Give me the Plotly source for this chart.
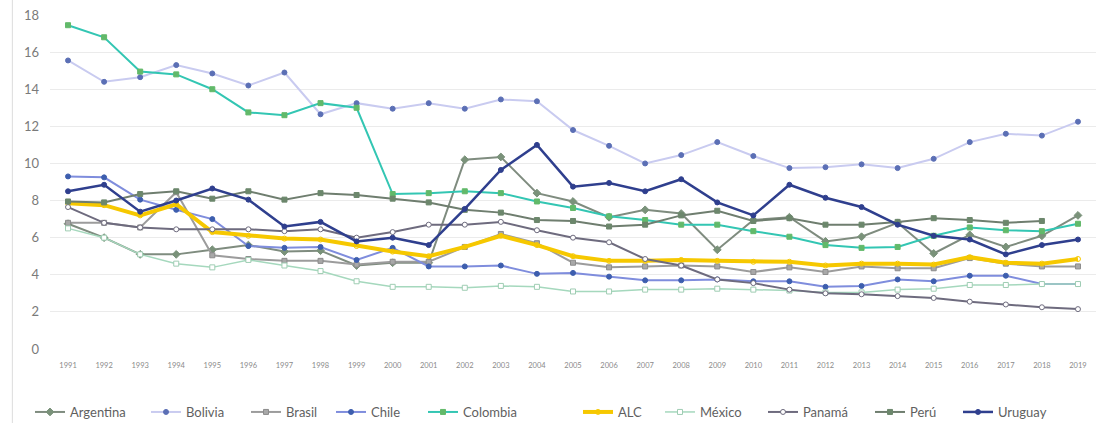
import plotly.graph_objects as go

# Years on the horizontal axis
years = [str(y) for y in range(1991, 2020)]

# Series values (percent)
argentina = [6.75, 6.0, 5.1, 5.1, 5.35, 5.6, 5.25, 5.3, 4.5, 4.65, 4.65, 10.2, 10.35, 8.4, 7.95,
             7.1, 7.5, 7.3, 5.35, 6.95, 7.1, 5.8, 6.05, 6.8, 5.15, 6.15, 5.5, 6.1, 7.2]
bolivia = [15.55, 14.4, 14.65, 15.3, 14.85, 14.2, 14.9, 12.65, 13.25, 12.95, 13.25, 12.95, 13.45,
           13.35, 11.8, 10.95, 10.0, 10.45, 11.15, 10.4, 9.75, 9.8, 9.95, 9.75, 10.25, 11.15,
           11.6, 11.5, 12.25]
brasil = [6.8, 6.8, 6.55, 8.45, 5.05, 4.85, 4.75, 4.75, 4.55, 4.7, 4.7, 5.5, 6.2, 5.7, 4.65,
          4.4, 4.45, 4.5, 4.45, 4.15, 4.4, 4.15, 4.45, 4.35, 4.35, 4.9, 4.6, 4.45, 4.45]
chile = [9.3, 9.25, 8.05, 7.5, 7.0, 5.55, 5.45, 5.5, 4.8, 5.45, 4.45, 4.45, 4.5, 4.05, 4.1,
         3.9, 3.7, 3.7, 3.75, 3.65, 3.65, 3.35, 3.4, 3.75, 3.65, 3.95, 3.95, 3.5, 3.5]
colombia = [17.45, 16.8, 14.95, 14.8, 14.0, 12.75, 12.6, 13.25, 13.0, 8.35, 8.4, 8.5, 8.4, 7.95,
            7.6, 7.15, 6.95, 6.7, 6.7, 6.35, 6.05, 5.6, 5.45, 5.5, 6.1, 6.55, 6.4, 6.35, 6.75]
alc = [7.85, 7.75, 7.2, 7.8, 6.3, 6.1, 5.95, 5.9, 5.55, 5.25, 5.0, 5.5, 6.1, 5.6, 5.0,
       4.75, 4.75, 4.8, 4.75, 4.7, 4.7, 4.5, 4.6, 4.6, 4.55, 4.95, 4.65, 4.6, 4.85]
mexico = [6.5, 6.0, 5.1, 4.6, 4.4, 4.8, 4.5, 4.2, 3.65, 3.35, 3.35, 3.3, 3.4, 3.35, 3.1,
          3.1, 3.2, 3.2, 3.25, 3.2, 3.15, 3.05, 3.05, 3.2, 3.25, 3.45, 3.45, 3.5, 3.5]
panama = [7.65, 6.8, 6.55, 6.45, 6.45, 6.45, 6.35, 6.45, 6.0, 6.3, 6.7, 6.7, 6.85, 6.4, 6.0,
          5.75, 4.85, 4.5, 3.75, 3.55, 3.2, 3.0, 2.95, 2.85, 2.75, 2.55, 2.4, 2.25, 2.15]
peru = [7.95, 7.9, 8.35, 8.5, 8.1, 8.5, 8.05, 8.4, 8.3, 8.1, 7.9, 7.5, 7.35, 6.95, 6.9,
        6.6, 6.7, 7.2, 7.45, 6.9, 7.05, 6.7, 6.7, 6.85, 7.05, 6.95, 6.8, 6.9, None]
uruguay = [8.5, 8.85, 7.4, 8.0, 8.65, 8.05, 6.6, 6.85, 5.8, 6.0, 5.6, 7.55, 9.65, 11.0, 8.75,
           8.95, 8.5, 9.15, 7.9, 7.2, 8.85, 8.15, 7.65, 6.7, 6.1, 5.9, 5.1, 5.6, 5.9]

y_ticks = [0, 2, 4, 6, 8, 10, 12, 14, 16, 18]

# name, values, line colour, line width, marker symbol, marker fill, marker edge
series = [
    ("Argentina", argentina, "#7f8c7f", 2, "diamond", "#7a927a", "#7a927a"),
    ("Bolivia", bolivia, "#c9cbf0", 2, "circle", "#5b6fb5", "#5b6fb5"),
    ("Brasil", brasil, "#9c9c9c", 2, "square", "#a8a8a8", "#8c8c8c"),
    ("Chile", chile, "#7f8ddd", 2, "circle", "#3d5eae", "#3d5eae"),
    ("Colombia", colombia, "#33c6b3", 2, "square", "#62b96a", "#62b96a"),
    ("ALC", alc, "#f6c800", 4, "circle-open", "#f6c800", "#f6c800"),
    ("México", mexico, "#a5d8bd", 1.5, "square", "#ffffff", "#9fcdb3"),
    ("Panamá", panama, "#6e6b7e", 2, "circle", "#ffffff", "#6e6b7e"),
    ("Perú", peru, "#6f7e6f", 2, "square", "#6c876c", "#6c876c"),
    ("Uruguay", uruguay, "#2f3f8e", 2.5, "circle", "#2f3f8e", "#2f3f8e"),
]

# Left edge (px) of each legend entry's label, one legend box per series
legend_text_x = [72, 188, 288, 373, 465, 620, 702, 805, 912, 1000]

fig = go.Figure()
legends = {}
for i, (name, vals, lcol, lw, sym, mfill, medge) in enumerate(series):
    key = "legend" if i == 0 else f"legend{i + 1}"
    fig.add_trace(go.Scatter(
        x=years, y=vals, name=name, mode="lines+markers",
        line=dict(color=lcol, width=lw),
        marker=dict(symbol=sym, size=5 if sym != "diamond" else 6, color=mfill,
                    line=dict(color=medge, width=1)),
        connectgaps=False, legend=key,
    ))
    legends[key] = dict(
        orientation="h", xref="container", yref="container",
        x=(legend_text_x[i] - 42) / 1105, xanchor="left",
        y=1 - 412 / 423, yanchor="middle",
        font=dict(size=13, color="#5f5f5f"), bgcolor="rgba(0,0,0,0)",
    )

fig.update_layout(
    width=1105, height=423,
    margin=dict(l=50, r=9, t=15, b=74, autoexpand=False),
    paper_bgcolor="white", plot_bgcolor="white",
    font=dict(family="Lato, 'Open Sans', sans-serif", color="#6b6b6b"),
    showlegend=True,
    xaxis=dict(
        type="category", range=[-0.5, len(years) - 0.5], showgrid=False,
        zeroline=False, showline=False, ticks="",
        tickfont=dict(size=7.5, color="#8a8a8a"), ticklabelstandoff=10,
    ),
    yaxis=dict(
        range=[0, 18], tickvals=y_ticks, showgrid=True, gridcolor="#ebebeb",
        gridwidth=1, zeroline=False, showline=False, ticks="",
        tickfont=dict(size=13, color="#7a7a7a"), ticklabelstandoff=10,
    ),
    shapes=[dict(type="line", xref="paper", yref="paper", x0=-0.036, x1=-0.036,
                 y0=-0.25, y1=1.05, line=dict(color="#dcdcdc", width=1))],
    **legends,
)

fig.write_html("out.html")
